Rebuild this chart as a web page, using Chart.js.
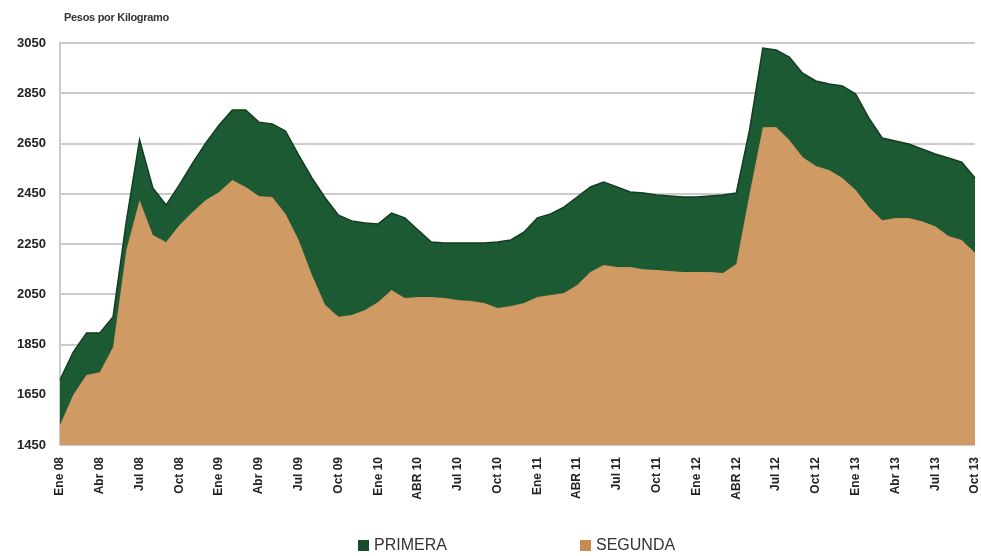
<!DOCTYPE html>
<html>
<head>
<meta charset="utf-8">
<script src="https://cdn.jsdelivr.net/npm/chart.js@4/dist/chart.umd.min.js"></script>
<style>
  body { margin:0; background:#fff; }
  #wrap { position:relative; width:981px; height:556px; overflow:hidden; }
  #title { position:absolute; left:64px; top:11px; font:bold 11px "Liberation Sans", Arial, sans-serif; color:#333; letter-spacing:-0.3px; }
  .lg { position:absolute; top:536px; font:16px "Liberation Sans", Arial, sans-serif; color:#333; white-space:nowrap; }
  .lg span.box { display:inline-block; width:11px; height:11px; margin-right:5px; vertical-align:-1px; }
</style>
</head>
<body>
<div id="wrap">
  <canvas id="c" width="981" height="556"></canvas>
  <div id="title">Pesos por Kilogramo</div>
  <div class="lg" style="left:358px"><span class="box" style="background:#1a4a2b"></span>PRIMERA</div>
  <div class="lg" style="left:580px"><span class="box" style="background:#c98b50"></span>SEGUNDA</div>
</div>
<script>
const categories = [
  "Ene 08","Feb 08","Mar 08","Abr 08","May 08","Jun 08","Jul 08","Ago 08","Sep 08","Oct 08","Nov 08","Dic 08",
  "Ene 09","Feb 09","Mar 09","Abr 09","May 09","Jun 09","Jul 09","Ago 09","Sep 09","Oct 09","Nov 09","Dic 09",
  "Ene 10","Feb 10","Mar 10","ABR 10","May 10","Jun 10","Jul 10","Ago 10","Sep 10","Oct 10","Nov 10","Dic 10",
  "Ene 11","Feb 11","Mar 11","ABR 11","May 11","Jun 11","Jul 11","Ago 11","Sep 11","Oct 11","Nov 11","Dic 11",
  "Ene 12","Feb 12","Mar 12","ABR 12","May 12","Jun 12","Jul 12","Ago 12","Sep 12","Oct 12","Nov 12","Dic 12",
  "Ene 13","Feb 13","Mar 13","Abr 13","May 13","Jun 13","Jul 13","Ago 13","Sep 13","Oct 13"
];
const primera = [1709,1820,1896,1896,1960,2340,2665,2473,2405,2485,2572,2652,2724,2783,2783,2735,2728,2700,2604,2513,2433,2365,2342,2334,2330,2373,2354,2306,2258,2254,2254,2254,2254,2258,2266,2298,2354,2370,2397,2437,2477,2497,2477,2457,2453,2445,2441,2437,2437,2441,2445,2453,2704,3030,3022,2994,2930,2899,2887,2879,2847,2751,2672,2660,2648,2628,2608,2592,2576,2513];
const segunda = [1530,1650,1729,1740,1840,2226,2425,2286,2258,2325,2377,2425,2457,2505,2477,2441,2437,2370,2266,2127,2007,1960,1967,1987,2019,2067,2035,2039,2039,2035,2027,2023,2015,1995,2003,2015,2039,2047,2055,2087,2139,2166,2158,2158,2150,2147,2143,2139,2139,2139,2135,2170,2450,2715,2716,2664,2596,2560,2545,2513,2465,2397,2345,2353,2353,2341,2321,2282,2266,2215];
const yTicks = [1450,1650,1850,2050,2250,2450,2650,2850,3050];
const tickEvery = 3;

new Chart(document.getElementById('c'), {
  type: 'line',
  data: {
    labels: categories,
    datasets: [
      { label: 'PRIMERA', data: primera, fill: '+1', backgroundColor: '#1c5a33', borderColor: '#123d22', borderWidth: 1.5, pointRadius: 0, tension: 0 },
      { label: 'SEGUNDA', data: segunda, fill: 'start', backgroundColor: '#cf9a63', borderColor: '#c58d55', borderWidth: 1, pointRadius: 0, tension: 0 }
    ]
  },
  options: {
    responsive: false,
    animation: false,
    devicePixelRatio: 1,
    layout: { padding: { top: 43, right: 6, left: 0, bottom: 0 } },
    plugins: { legend: { display: false }, tooltip: { enabled: false } },
    scales: {
      x: {
        offset: false,
        grid: { display: false },
        border: { display: false },
        afterFit: (a) => { a.height = 111; a.paddingRight = 0; a.paddingLeft = 0; },
        ticks: {
          autoSkip: false, maxRotation: 90, minRotation: 90, padding: 4,
          color: '#222', font: { family: 'Liberation Sans', size: 12, weight: 'bold' },
          callback: (v, i) => (i % tickEvery === 0 ? categories[i] : null)
        }
      },
      y: {
        min: 1450, max: 3050,
        afterFit: (a) => { a.width = 60; },
        afterBuildTicks: (a) => { a.ticks = yTicks.map(v => ({ value: v })); },
        grid: { color: '#cbcbcb', lineWidth: 2, drawTicks: false },
        border: { display: true, color: '#cbcbcb', width: 2 },
        ticks: { padding: 14, color: '#222', font: { family: 'Liberation Sans', size: 13, weight: 'bold' },
          callback: (v) => String(v) }
      }
    }
  }
});
</script>
</body>
</html>
